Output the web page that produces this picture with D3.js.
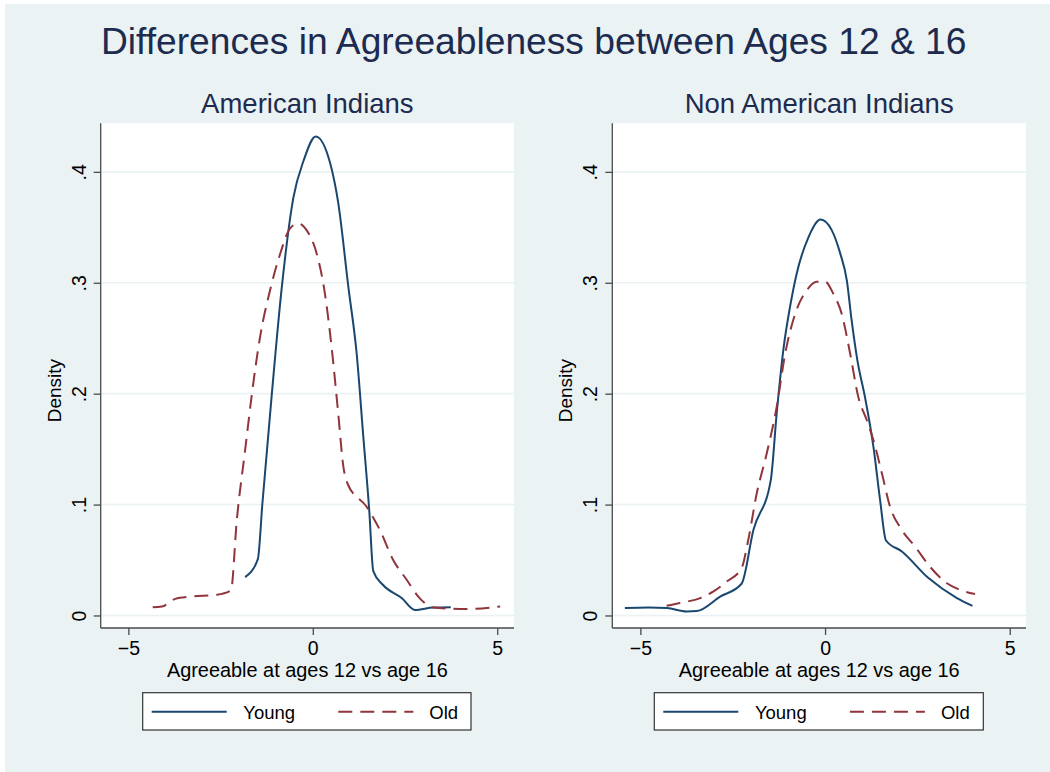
<!DOCTYPE html>
<html>
<head>
<meta charset="utf-8">
<script src="https://cdn.jsdelivr.net/npm/d3@7"></script>
<style>
  html, body { margin: 0; padding: 0; background: #ffffff; }
  svg { display: block; }
  text { font-family: "Liberation Sans", Arial, Helvetica, sans-serif; }
</style>
</head>
<body>
<svg id="chart" width="1050" height="772"></svg>
<script>
// ---------------- DATA ----------------
const chartTitle = "Differences in Agreeableness between Ages 12 & 16";
const panelTitles = ["American Indians", "Non American Indians"];
const xAxisTitle = "Agreeable at ages 12 vs age 16";
const yAxisTitle = "Density";
const seriesNames = ["Young", "Old"];
const xTicks = [-5, 0, 5];
const yTicks = [0, 0.1, 0.2, 0.3, 0.4];
const yTickLabels = ["0", ".1", ".2", ".3", ".4"];

// Panel 1: American Indians
const aiYoungX = [-1.835, -1.49, -1.366, -1.11, -0.84, -0.525, -0.25, 0.08, 0.47, 0.69, 0.965, 1.19, 1.37, 1.53, 1.64, 1.90, 2.41, 2.77, 3.27, 3.74];
const aiYoungY = [0.0346, 0.0508, 0.101, 0.200, 0.296, 0.377, 0.410, 0.432, 0.408, 0.372, 0.296, 0.236, 0.161, 0.095, 0.040, 0.0277, 0.0157, 0.005, 0.0072, 0.0075];
const aiOldX = [-4.34, -4.09, -3.73, -3.33, -2.60, -2.22, -2.06, -1.835, -1.65, -1.43, -1.16, -0.886, -0.615, -0.39, -0.16, 0.108, 0.33, 0.51, 0.69, 0.83, 0.94, 1.46, 1.82, 2.18, 2.55, 2.86, 3.27, 4.17, 5.08];
const aiOldY = [0.0075, 0.0081, 0.015, 0.017, 0.0186, 0.0225, 0.086, 0.149, 0.200, 0.251, 0.293, 0.326, 0.349, 0.3535, 0.347, 0.326, 0.290, 0.242, 0.182, 0.134, 0.119, 0.098, 0.077, 0.050, 0.032, 0.017, 0.0072, 0.0058, 0.0081];

// Panel 2: Non American Indians
const naiYoungX = [-5.42, -4.78, -4.28, -3.75, -3.47, -2.84, -2.26, -1.94, -1.47, -1.31, -1.12, -0.95, -0.77, -0.45, -0.12, 0.18, 0.41, 0.59, 0.72, 0.875, 1.08, 1.31, 1.49, 1.65, 2.08, 2.80, 3.57, 3.99];
const naiYoungY = [0.0067, 0.0072, 0.0067, 0.0036, 0.004, 0.017, 0.0286, 0.077, 0.122, 0.182, 0.242, 0.278, 0.308, 0.341, 0.357, 0.3475, 0.3265, 0.302, 0.266, 0.230, 0.197, 0.152, 0.104, 0.0676, 0.0577, 0.0337, 0.0157, 0.0087];
const naiOldX = [-4.29, -3.93, -3.38, -3.02, -2.66, -2.26, -2.08, -1.85, -1.58, -1.31, -1.08, -0.81, -0.50, -0.225, 0.0, 0.225, 0.45, 0.68, 0.90, 1.13, 1.31, 1.54, 1.76, 2.08, 2.44, 2.84, 3.30, 3.66, 4.06];
const naiOldY = [0.0087, 0.0112, 0.0157, 0.0217, 0.0306, 0.0427, 0.068, 0.110, 0.146, 0.188, 0.236, 0.272, 0.293, 0.301, 0.301, 0.290, 0.272, 0.236, 0.197, 0.176, 0.158, 0.128, 0.098, 0.077, 0.062, 0.044, 0.029, 0.023, 0.0193];

// ---------------- STYLE / LAYOUT ----------------
const bgColor = "#eaf2f3";
const titleColor = "#1c2b4f";
const youngColor = "#1a476f";
const oldColor = "#90353b";
const gridColor = "#eaf2f3";
const axisColor = "#4a4a4a";

const svg = d3.select("#chart");
svg.append("rect").attr("x", 5).attr("y", 4).attr("width", 1045).attr("height", 768).attr("fill", bgColor);

svg.append("text")
  .attr("x", 533.7).attr("y", 54.3)
  .attr("text-anchor", "middle")
  .attr("font-size", 37.2)
  .attr("fill", titleColor)
  .text(chartTitle);

const panels = [
  { title: panelTitles[0], left: 100.7, right: 514, xDomain: [-5.75, 5.455],
    young: aiYoungX.map((x, i) => [x, aiYoungY[i]]),
    old: aiOldX.map((x, i) => [x, aiOldY[i]]),
    legend: { x0: 142.7, x1: 471 } },
  { title: panelTitles[1], left: 612.3, right: 1026, xDomain: [-5.76, 5.44],
    young: naiYoungX.map((x, i) => [x, naiYoungY[i]]),
    old: naiOldX.map((x, i) => [x, naiOldY[i]]),
    legend: { x0: 654.3, x1: 983.3 } }
];

const plotTop = 123.3, plotBottom = 628;
const yDomain = [-0.0113, 0.4438];

panels.forEach(p => {
  const g = svg.append("g");
  const x = d3.scaleLinear().domain(p.xDomain).range([p.left, p.right]);
  const y = d3.scaleLinear().domain(yDomain).range([plotBottom, plotTop]);
  const cx = (p.left + p.right) / 2;

  // panel title
  g.append("text")
    .attr("x", cx).attr("y", 113.3)
    .attr("text-anchor", "middle")
    .attr("font-size", 27.5)
    .attr("fill", titleColor)
    .text(p.title);

  // plot region
  g.append("rect")
    .attr("x", p.left).attr("y", plotTop)
    .attr("width", p.right - p.left).attr("height", plotBottom - plotTop)
    .attr("fill", "#ffffff");

  // grid
  g.selectAll(".grid").data(yTicks).enter().append("line")
    .attr("x1", p.left).attr("x2", p.right)
    .attr("y1", d => y(d)).attr("y2", d => y(d))
    .attr("stroke", gridColor).attr("stroke-width", 1.6);

  // y axis
  const yAxis = d3.axisLeft(y).tickValues(yTicks)
    .tickFormat((d, i) => yTickLabels[i]).tickSize(7).tickPadding(8);
  const ya = g.append("g").attr("transform", `translate(${p.left},0)`).call(yAxis);
  ya.select(".domain").attr("d", `M0,${plotTop}V${plotBottom}`).attr("stroke", axisColor).attr("stroke-width", 1.3);
  ya.selectAll(".tick line").attr("stroke", axisColor).attr("stroke-width", 1.3);
  ya.selectAll(".tick text")
    .attr("font-size", 19.5).attr("fill", "#000")
    .attr("font-family", '"Liberation Sans", Arial, Helvetica, sans-serif')
    .attr("text-anchor", "middle")
    .attr("x", 0).attr("dy", 0)
    .attr("transform", "translate(-22,0) rotate(-90)")
    .attr("dominant-baseline", "central");
  ya.selectAll(".tick text").attr("y", 0);

  // x axis
  const xAxis = d3.axisBottom(x).tickValues(xTicks).tickFormat(d3.format("d")).tickSize(7).tickPadding(6);
  const xa = g.append("g").attr("transform", `translate(0,${plotBottom})`).call(xAxis);
  xa.select(".domain").attr("d", `M${p.left},0H${p.right}`).attr("stroke", axisColor).attr("stroke-width", 1.3);
  xa.selectAll(".tick line").attr("stroke", axisColor).attr("stroke-width", 1.3);
  xa.selectAll(".tick text").attr("font-size", 19.5).attr("fill", "#000")
    .attr("font-family", '"Liberation Sans", Arial, Helvetica, sans-serif');

  // axis titles
  g.append("text")
    .attr("x", cx).attr("y", 677)
    .attr("text-anchor", "middle")
    .attr("font-size", 19.9).attr("fill", "#000")
    .text(xAxisTitle);
  g.append("text")
    .attr("transform", `translate(${p.left - 40},${(plotTop + plotBottom) / 2 + 15}) rotate(-90)`)
    .attr("text-anchor", "middle")
    .attr("font-size", 19).attr("fill", "#000")
    .text(yAxisTitle);

  // curves
  const line = d3.line().x(d => x(d[0])).y(d => y(d[1])).curve(d3.curveMonotoneX);
  g.append("path").datum(p.young).attr("d", line)
    .attr("fill", "none").attr("stroke", youngColor).attr("stroke-width", 2);
  g.append("path").datum(p.old).attr("d", line)
    .attr("fill", "none").attr("stroke", oldColor).attr("stroke-width", 2)
    .attr("stroke-dasharray", "14,8");

  // legend
  const L = p.legend;
  const lg = g.append("g");
  lg.append("rect")
    .attr("x", L.x0).attr("y", 692.7)
    .attr("width", L.x1 - L.x0).attr("height", 37.3)
    .attr("fill", "#ffffff").attr("stroke", "#333").attr("stroke-width", 1.2);
  const ly = 711.7;
  lg.append("line").attr("x1", L.x0 + 9).attr("x2", L.x0 + 84).attr("y1", ly).attr("y2", ly)
    .attr("stroke", youngColor).attr("stroke-width", 2);
  lg.append("text").attr("x", L.x0 + 100.6).attr("y", ly + 7)
    .attr("font-size", 18.5).attr("fill", "#000").text(seriesNames[0]);
  lg.append("line").attr("x1", L.x0 + 195.6).attr("x2", L.x0 + 270.6).attr("y1", ly).attr("y2", ly)
    .attr("stroke", oldColor).attr("stroke-width", 2).attr("stroke-dasharray", "14,8");
  lg.append("text").attr("x", L.x0 + 286.6).attr("y", ly + 7)
    .attr("font-size", 18.5).attr("fill", "#000").text(seriesNames[1]);
});
</script>
</body>
</html>
